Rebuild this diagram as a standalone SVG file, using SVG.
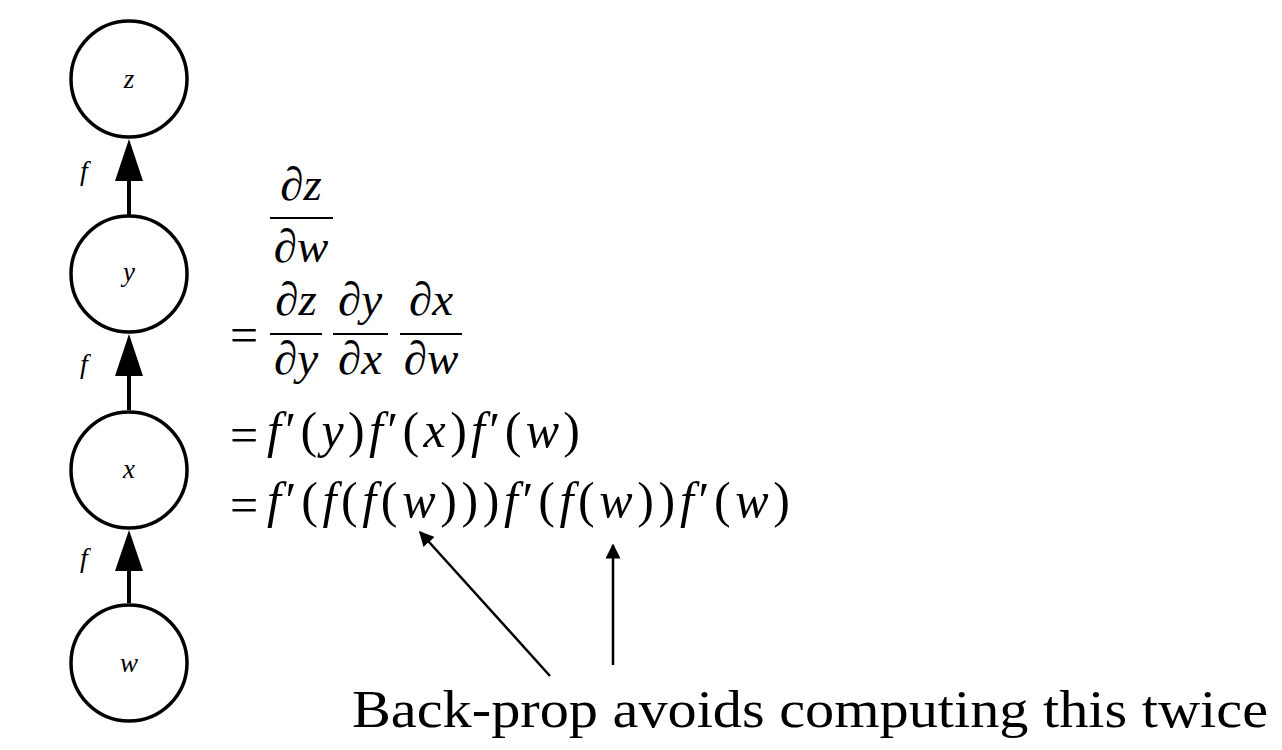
<svg xmlns="http://www.w3.org/2000/svg" width="1282" height="750" viewBox="0 0 1282 750">
<style>
.node{fill:#fff;stroke:#000;stroke-width:3.5}
.lbl{font-family:"Liberation Serif",serif;font-style:italic;font-size:27px;text-anchor:middle}
.fl{font-family:"Liberation Serif",serif;font-style:italic;font-size:28px;text-anchor:middle}
.m{font-family:"Liberation Serif",serif;font-style:italic;font-size:47px;text-anchor:middle}
.eq{font-family:"Liberation Serif",serif;font-size:50px}
.up{font-style:normal}
.bar{stroke:#000;stroke-width:2}
.edge{stroke:#000;stroke-width:4}
.ptr{stroke:#000;stroke-width:2.5;fill:none}
.cap{font-family:"Liberation Serif",serif;font-size:52px}
</style>
<defs>
<marker id="ah" viewBox="0 0 10 10" refX="9" refY="5" markerWidth="6" markerHeight="6" orient="auto" markerUnits="strokeWidth">
<path d="M0,0 L10,5 L0,10 z" fill="#000"/>
</marker>
</defs>
<rect width="1282" height="750" fill="#fff"/>
<g id="connectors">
<line class="edge" x1="129" y1="215" x2="129" y2="178"/>
<polygon points="129,139 115,181 143,181" fill="#000"/>
<line class="edge" x1="129" y1="410" x2="129" y2="373"/>
<polygon points="129,334 115,376 143,376" fill="#000"/>
<line class="edge" x1="129" y1="603" x2="129" y2="568"/>
<polygon points="129,530 115,571 143,571" fill="#000"/>
<text class="fl" x="84" y="180">f</text>
<text class="fl" x="84" y="373">f</text>
<text class="fl" x="84" y="567">f</text>
<line class="ptr" x1="550" y1="676" x2="420" y2="532" marker-end="url(#ah)"/>
<line class="ptr" x1="613" y1="665" x2="613" y2="545" marker-end="url(#ah)"/>
</g>
<g id="node-z"><circle class="node" cx="129" cy="79" r="58"/><text class="lbl" x="129" y="88">z</text></g>
<g id="node-y"><circle class="node" cx="129" cy="274" r="58"/><text class="lbl" x="129" y="281">y</text></g>
<g id="node-x"><circle class="node" cx="129" cy="470" r="58"/><text class="lbl" x="129" y="478">x</text></g>
<g id="node-w"><circle class="node" cx="129" cy="663" r="58"/><text class="lbl" x="129" y="672">w</text></g>
<g id="formula">
<text class="m" x="301" y="200">∂z</text>
<line class="bar" x1="270" y1="218" x2="333" y2="218"/>
<text class="m" x="301" y="262">∂w</text>
<text class="eq" x="230" y="352">=</text>
<text class="m" x="296" y="315">∂z</text>
<line class="bar" x1="270" y1="334" x2="322" y2="334"/>
<text class="m" x="296" y="374">∂y</text>
<text class="m" x="360" y="315">∂y</text>
<line class="bar" x1="333" y1="334" x2="388" y2="334"/>
<text class="m" x="360" y="374">∂x</text>
<text class="m" x="431" y="315">∂x</text>
<line class="bar" x1="400" y1="334" x2="462" y2="334"/>
<text class="m" x="431" y="374">∂w</text>
<text class="eq" x="230" y="452">=</text>
<text class="eq" x="267" y="447" textLength="313" lengthAdjust="spacing" font-style="italic">f<tspan class="up">′(</tspan>y<tspan class="up">)</tspan>f<tspan class="up">′(</tspan>x<tspan class="up">)</tspan>f<tspan class="up">′(</tspan>w<tspan class="up">)</tspan></text>
<text class="eq" x="230" y="522">=</text>
<text class="eq" x="267" y="517" textLength="523" lengthAdjust="spacing" font-style="italic">f<tspan class="up">′(</tspan>f<tspan class="up">(</tspan>f<tspan class="up">(</tspan>w<tspan class="up">)))</tspan>f<tspan class="up">′(</tspan>f<tspan class="up">(</tspan>w<tspan class="up">))</tspan>f<tspan class="up">′(</tspan>w<tspan class="up">)</tspan></text>
</g>
<text class="cap" x="352" y="727" textLength="916" lengthAdjust="spacingAndGlyphs">Back-prop avoids computing this twice</text>
</svg>
